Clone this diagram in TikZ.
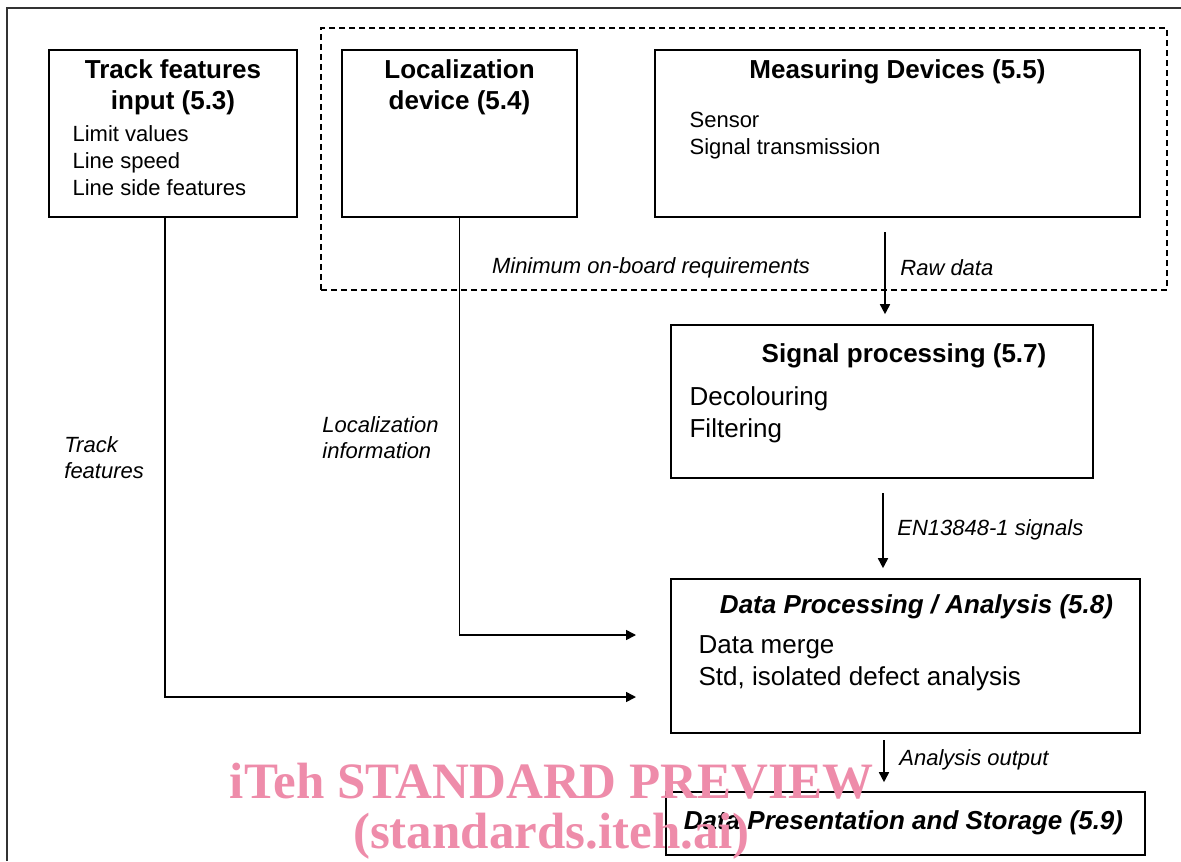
\documentclass[tikz,border=0pt]{standalone}
\usepackage{fontspec}
\setmainfont{Liberation Sans}
\newfontfamily\wmfont{Liberation Serif}
\usetikzlibrary{arrows.meta,positioning}
\definecolor{wmpink}{RGB}{238,140,170}

\begin{document}
\begin{tikzpicture}[
  x=0.5pt, y=-0.5pt,
  box/.style={draw, line width=0.8pt, inner sep=0pt},
  ttl/.style={font=\fontsize{13}{15.5}\selectfont\bfseries, align=center, inner sep=0pt},
  txt/.style={font=\fontsize{11}{13.5}\selectfont, align=left, inner sep=0pt},
  bigtxt/.style={font=\fontsize{13}{16}\selectfont, align=left, inner sep=0pt},
  lbl/.style={font=\fontsize{11}{13}\selectfont\itshape, align=left, inner sep=0pt},
  arr/.style={-{Triangle[length=5pt,width=5pt]}, line width=0.8pt}
]
\useasboundingbox (0,0) rectangle (1181,861);

% outer frame (cut off at right and bottom)
\draw[line width=1pt, black!80] (7,861) -- (7,8) -- (1181,8);

% on-board group
\node[box, dashed, line width=0.6pt, dash pattern=on 3pt off 2pt,
      minimum width=423pt, minimum height=131pt] (onboard) at (744,159) {};

\node[box, minimum width=124pt, minimum height=83.5pt] (track) at (173,133.5) {};
\node[box, minimum width=117.5pt, minimum height=83.5pt] (loc) at (459.5,133.5) {};
\node[box, minimum width=242.5pt, minimum height=83.5pt] (meas) at (897.5,133.5) {};
\node[box, minimum width=211pt, minimum height=76.5pt] (sig) at (882,401.5) {};
\node[box, minimum width=234.5pt, minimum height=77pt] (dp) at (905.5,656) {};
\node[box, minimum width=239.5pt, minimum height=31.5pt] (pres) at (905.5,823.5) {};

% titles and contents
\node[ttl, below=5pt of track.north] (tracktitle) {Track features\\input (5.3)};
\node[txt, below right=38pt and 12pt of track.north west] (tracktxt) {Limit values\\Line speed\\Line side features};

\node[ttl, below=5pt of loc.north] (loctitle) {Localization\\device (5.4)};

\node[ttl, below=5pt of meas.north] (meastitle) {Measuring Devices (5.5)};
\node[txt, below right=31.5pt and 17.5pt of meas.north west] (meastxt) {Sensor\\Signal transmission};

\node[ttl, below=9.5pt of sig.north, xshift=11pt] (sigtitle) {Signal processing (5.7)};
\node[bigtxt, below right=31pt and 9.5pt of sig.north west] (sigtxt) {Decolouring\\Filtering};

\node[ttl, font=\fontsize{13}{15.5}\selectfont\bfseries\itshape, below=8pt of dp.north, xshift=5.5pt] (dptitle) {Data Processing / Analysis (5.8)};
\node[bigtxt, below right=28.5pt and 14pt of dp.north west] (dptxt) {Data merge\\Std, isolated defect analysis};

\node[ttl, font=\fontsize{13}{15.5}\selectfont\bfseries\itshape, below=9.5pt of pres.north, xshift=-1pt] (prestitle) {Data Presentation and Storage (5.9)};

% connector ends
\coordinate (raw0) at (885,232);
\coordinate (en0) at (883,493);
\coordinate (out0) at (884,740);
\coordinate (trk0) at (165,217);
\coordinate (locin) at (671,635);
\coordinate (trkin) at (671,697);

\draw[arr, shorten >=5pt] (raw0) -- (raw0 |- sig.north);
\draw[arr, shorten >=5pt] (en0) -- (en0 |- dp.north);
\draw[arr, shorten >=4.5pt] (out0) -- (out0 |- pres.north);
\draw[arr, shorten >=17.5pt] (loc.south) |- (locin);
\draw[arr, shorten >=17.5pt] (trk0) |- (trkin);

% connector labels
\node[lbl] (minreq) at (651,268) {Minimum on-board requirements};
\node[lbl, anchor=west] (rawlbl) at (900,268) {Raw data};
\node[lbl, anchor=west] (loclbl) at (322,438) {Localization\\information};
\node[lbl, anchor=west] (trklbl) at (64,458) {Track\\features};
\node[lbl, anchor=west] (enlbl) at (897,530) {EN13848-1 signals};
\node[lbl, anchor=west] (outlbl) at (899,760) {Analysis output};

% watermark
\node[anchor=base, inner sep=0pt, text=wmpink, font=\wmfont\fontsize{25.5}{30}\selectfont\bfseries] (wm1) at (551.5,798) {iTeh STANDARD PREVIEW};
\node[anchor=base, inner sep=0pt, text=wmpink, font=\wmfont\fontsize{25.5}{30}\selectfont\bfseries] (wm2) at (551.5,848) {(standards.iteh.ai)};
\end{tikzpicture}
\end{document}
